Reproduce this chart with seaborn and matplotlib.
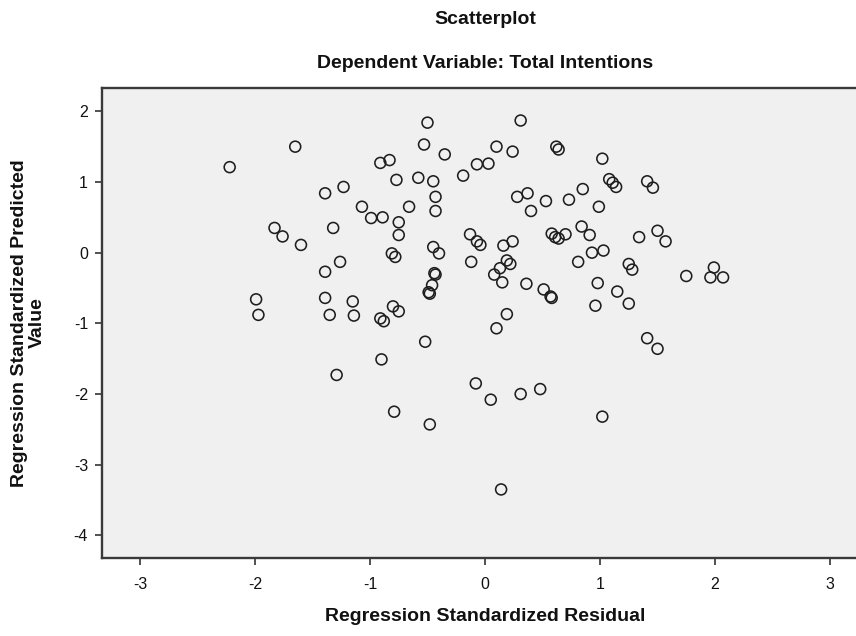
"""
plot.py
-------
SPSS style residual scatterplot: standardized residual vs standardized
predicted value for the regression on Total Intentions.
"""

import matplotlib
matplotlib.use("Agg")
import matplotlib.pyplot as plt
import seaborn as sns

# standardized residuals (x) and standardized predicted values (y)
residual = [
    -2.22, -1.65, -1.23, -1.39, -1.07, -1.83, -1.76, -1.60, -1.32, -1.26,
    -1.39, -1.99, -1.97, -1.39, -1.35, -1.15, -1.14, -0.50, 0.31, -0.53,
    -0.35, 0.10, 0.24, 0.62, 0.64, 1.02, -0.91, -0.83, -0.77, -0.58,
    -0.45, -0.43, -0.43, -0.19, -0.07, 0.03, 0.28, 0.37, 0.40, 0.53,
    0.73, 0.85, 0.99, 1.08, 1.11, 1.14, -0.99, -0.89, -0.66, -0.75,
    -0.75, -0.81, -0.78, -0.45, -0.40, -0.44, -0.43, -0.46, -0.49, -0.48,
    -0.80, -0.75, -0.91, -0.88, -0.13, -0.07, -0.04, -0.12, 0.16, 0.24,
    0.19, 0.22, 0.13, 0.08, 0.15, 0.36, 0.51, 0.57, 0.58, 0.19,
    0.10, 0.58, 0.61, 0.64, 0.70, 0.84, 0.91, 0.93, 1.03, 0.81,
    0.98, 0.96, 1.41, 1.46, 1.34, 1.50, 1.57, 1.25, 1.28, 1.15,
    1.25, 1.75, 1.99, 1.96, 2.07, 1.41, 1.50, 1.02, -0.52, -0.90,
    -0.08, 0.05, 0.31, 0.48, -0.79, -0.48, 0.14, -1.29,
]
predicted = [
    1.21, 1.50, 0.93, 0.84, 0.65, 0.35, 0.23, 0.11, 0.35, -0.13,
    -0.27, -0.66, -0.88, -0.64, -0.88, -0.69, -0.89, 1.84, 1.87, 1.53,
    1.39, 1.50, 1.43, 1.50, 1.46, 1.33, 1.27, 1.31, 1.03, 1.06,
    1.01, 0.79, 0.59, 1.09, 1.25, 1.26, 0.79, 0.84, 0.59, 0.73,
    0.75, 0.90, 0.65, 1.04, 0.99, 0.93, 0.49, 0.50, 0.65, 0.43,
    0.25, -0.01, -0.06, 0.08, -0.01, -0.29, -0.31, -0.46, -0.56, -0.58,
    -0.76, -0.83, -0.93, -0.97, 0.26, 0.16, 0.11, -0.13, 0.10, 0.16,
    -0.11, -0.16, -0.22, -0.31, -0.42, -0.44, -0.52, -0.62, -0.64, -0.87,
    -1.07, 0.27, 0.22, 0.20, 0.26, 0.37, 0.25, 0.00, 0.03, -0.13,
    -0.43, -0.75, 1.01, 0.92, 0.22, 0.31, 0.16, -0.16, -0.24, -0.55,
    -0.72, -0.33, -0.21, -0.35, -0.35, -1.21, -1.36, -2.32, -1.26, -1.51,
    -1.85, -2.08, -2.00, -1.93, -2.25, -2.43, -3.35, -1.73,
]

x_ticks = [-3, -2, -1, 0, 1, 2, 3]
y_ticks = [-4, -3, -2, -1, 0, 1, 2]

sns.set_theme(style="white")
plt.rcParams["font.family"] = ["Liberation Sans Narrow", "Liberation Sans", "DejaVu Sans"]
plt.rcParams["axes.unicode_minus"] = False

W, H = 856, 636
fig = plt.figure(figsize=(W / 100, H / 100), dpi=100)
# axes box in pixels: left 102, right 868 (cropped by figure edge), top 88, bottom 558
left, right, top, bottom = 102, 868, 88, 558
ax = fig.add_axes([left / W, 1 - bottom / H, (right - left) / W, (bottom - top) / H])
ax.set_facecolor("#f0f0f0")

sns.scatterplot(x=residual, y=predicted, ax=ax, marker="o", s=62,
                facecolor="none", edgecolor="#1e1e1e", linewidth=1.15)

ax.set_xlim(-3.33, 3.33)
ax.set_ylim(-4.32, 2.33)
ax.set_xticks(x_ticks)
ax.set_yticks(y_ticks)
ax.tick_params(axis="both", direction="out", length=5, width=1.1,
               color="#222222", labelsize=11.5, labelcolor="#111111", pad=5,
               bottom=True, left=True)
ax.tick_params(axis="x", pad=9)

for side in ax.spines.values():
    side.set_color("#3a3a3a")
    side.set_linewidth(1.7)

ax.set_xlabel("Regression Standardized Residual", fontsize=14,
              fontweight="bold", color="#111111")
ax.xaxis.set_label_coords(0.5, -0.125)
ax.xaxis.label.set_va("center")

ax.set_ylabel("Regression Standardized Predicted\nValue", fontsize=14,
              fontweight="bold", color="#111111", linespacing=1.0)
ax.yaxis.set_label_coords(-0.096, 0.5)
ax.yaxis.label.set_va("center")

cx = (left + right) / 2 / W
fig.text(cx, 1 - 20 / H, "Scatterplot", ha="center", va="center",
         fontsize=14, fontweight="bold", color="#111111")
fig.text(cx, 1 - 64 / H, "Dependent Variable: Total Intentions", ha="center",
         va="center", fontsize=14, fontweight="bold", color="#111111")

fig.savefig("out.png", dpi=100, facecolor="white")
plt.close(fig)
